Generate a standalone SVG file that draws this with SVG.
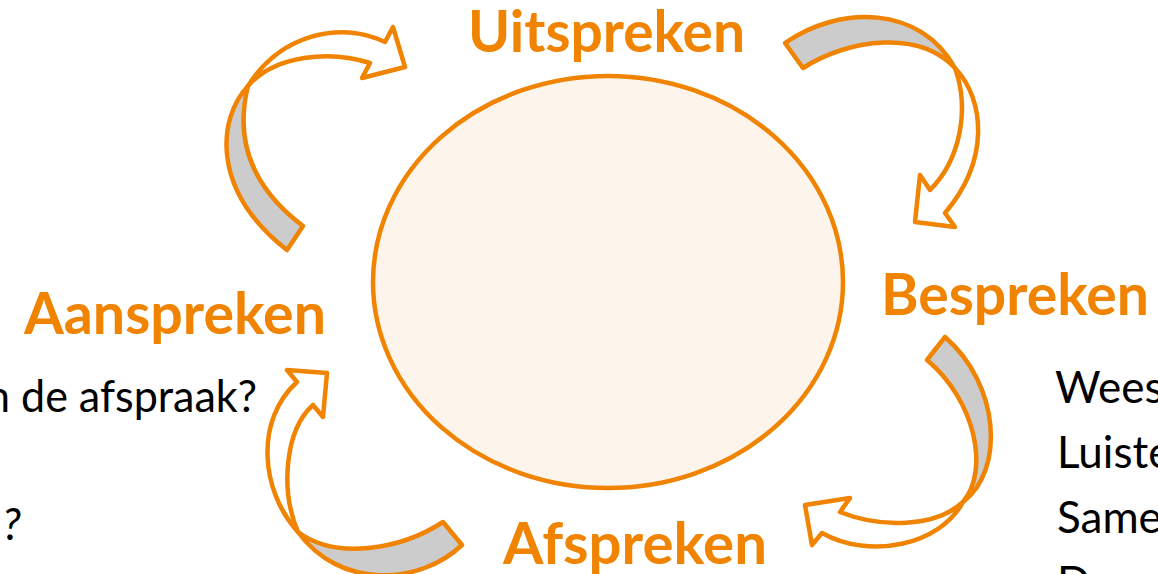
<svg xmlns="http://www.w3.org/2000/svg" width="1158" height="574" viewBox="0 0 1158 574">
<style>
.head{font-family:Lato,"Liberation Sans",sans-serif;font-weight:bold;font-size:57px;fill:#F08300}
.body{font-family:Lato,"Liberation Sans",sans-serif;font-size:44px;fill:#000}
.back{fill:#CCCCCC;stroke:#F08300;stroke-width:4.5;stroke-linejoin:round}
.front{fill:#FFFFFF;stroke:#F08300;stroke-width:4.5;stroke-linejoin:round}
</style>
<rect width="1158" height="574" fill="#FFFFFF"/>
<g id="center">
<ellipse cx="608" cy="282" rx="235" ry="206" fill="#FDF5EB" stroke="#F08300" stroke-width="4.5"/>
</g>
<g id="connectors">
<g id="arrow-aanspreken-uitspreken">
<path class="back" d="M248,86 C218,118 210,190 287,250 L303,226 C262,195 232,150 248,86 Z"/>
<path class="front" d="M248,86 C280,35 340,20 385,42 L393,27 L405,67 L362,78 L370,63 C330,50 275,55 248,86 Z"/>
</g>
<g id="arrow-uitspreken-bespreken">
<path class="back" d="M785,43 C840,5 920,5 955,68 C920,30 850,38 803,68 Z"/>
<path class="front" d="M955,68 C985,100 990,160 945,213 L955,227 L915,222 L920,175 L930,190 C960,160 970,110 955,68 Z"/>
</g>
<g id="arrow-bespreken-afspreken">
<path class="back" d="M945,337 C1000,385 1005,470 963,502 C990,470 975,400 927,360 Z"/>
<path class="front" d="M963,502 C940,545 870,560 822,533 L812,545 L805,505 L850,498 L840,512 C880,528 935,528 963,502 Z"/>
</g>
<g id="arrow-afspreken-aanspreken">
<path class="back" d="M462,545 C420,585 340,590 298,532 C335,560 400,550 443,522 Z"/>
<path class="front" d="M298,532 C260,490 255,420 297,382 L287,370 L327,373 L323,417 L313,405 C285,430 280,490 298,532 Z"/>
</g>
</g>
<g id="node-uitspreken"><text class="head" x="468" y="52" textLength="277" lengthAdjust="spacingAndGlyphs">Uitspreken</text></g>
<g id="node-bespreken"><text class="head" x="881" y="315" textLength="268" lengthAdjust="spacingAndGlyphs">Bespreken</text></g>
<g id="node-aanspreken"><text class="head" x="24" y="334" textLength="302" lengthAdjust="spacingAndGlyphs">Aanspreken</text></g>
<g id="node-afspreken"><text class="head" x="503" y="564" textLength="264" lengthAdjust="spacingAndGlyphs">Afspreken</text></g>
<g id="left-text">
<text class="body" x="-14" y="412" textLength="271" lengthAdjust="spacingAndGlyphs">n de afspraak?</text>
<text class="body" x="21" y="540" text-anchor="end" font-style="italic">?</text>
</g>
<g id="right-text">
<text class="body" x="1055" y="403">Wees</text>
<text class="body" x="1057" y="468">Luiste</text>
<text class="body" x="1057" y="533">Same</text>
<text class="body" x="1057" y="598">Door</text>
</g>
</svg>
